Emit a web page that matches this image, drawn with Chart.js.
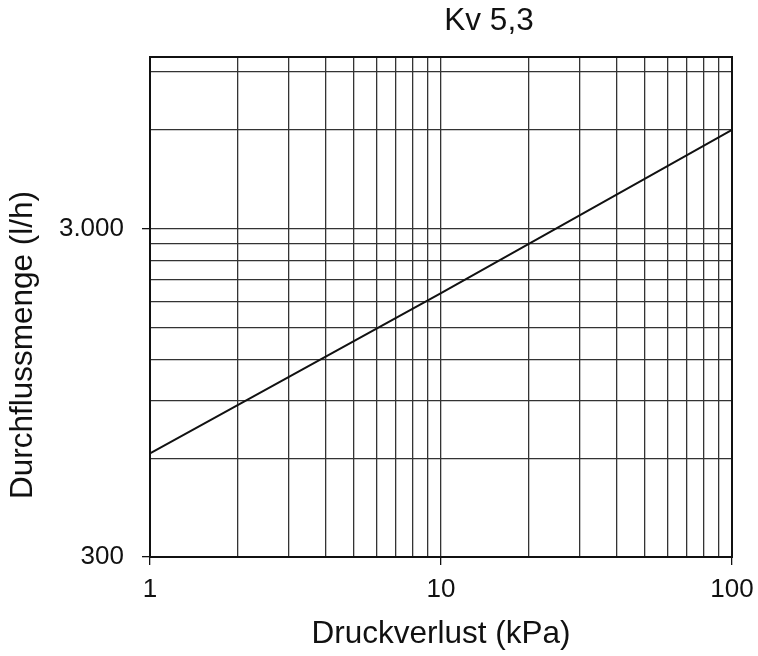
<!DOCTYPE html>
<html>
<head>
<meta charset="utf-8">
<title>Kv 5,3</title>
<script src="https://cdn.jsdelivr.net/npm/chart.js@4/dist/chart.umd.min.js"></script>
<style>
  html, body { margin: 0; padding: 0; background: #fff; }
  #chart { display: block; }
</style>
</head>
<body>
<canvas id="chart" width="758" height="656"></canvas>
<script>
// Pressure loss (kPa) -> flow (l/h)
const pressureKpa = [1, 10, 100];
const flowLh = [620, 1910, 6000];

// grid positions and which of them carry a label
const xGrid = [1, 2, 3, 4, 5, 6, 7, 8, 9, 10, 20, 30, 40, 50, 60, 70, 80, 90, 100];
const xLabels = [1, 10, 100];
const yGrid = [300, 600, 900, 1200, 1500, 1800, 2100, 2400, 2700, 3000, 6000, 9000];
const yLabels = [300, 3000];

const chartTitle = 'Kv 5,3';
const yTitle = 'Durchflussmenge (l/h)';
const FONT = "'Liberation Sans', Arial, Helvetica, sans-serif";
const TEXT = '#111';

// Frame around the plot, the title on top and the rotated y title
const framePlugin = {
    id: 'frame',
    afterDraw(chart) {
        const { ctx, chartArea } = chart;
        ctx.save();
        ctx.strokeStyle = TEXT;
        ctx.lineWidth = 2;
        ctx.strokeRect(chartArea.left, chartArea.top,
            chartArea.right - chartArea.left, chartArea.bottom - chartArea.top);

        ctx.fillStyle = TEXT;
        ctx.font = '31.5px ' + FONT;
        ctx.textAlign = 'center';
        ctx.textBaseline = 'alphabetic';
        ctx.fillText(chartTitle, 489, 30);

        // y title sits a bit below the middle of the plot in the original
        ctx.translate(23, 345);
        ctx.rotate(-Math.PI / 2);
        ctx.textBaseline = 'middle';
        ctx.fillText(yTitle, 0, 0);
        ctx.restore();
    }
};

function labeled(list, value) {
    return list.some(v => Math.abs(v - value) < 1e-6);
}

const ctx = document.getElementById('chart').getContext('2d');
new Chart(ctx, {
    type: 'line',
    data: {
        datasets: [{
            data: pressureKpa.map((p, i) => ({ x: p, y: flowLh[i] })),
            borderColor: TEXT,
            borderWidth: 2,
            pointRadius: 0,
            tension: 0
        }]
    },
    options: {
        responsive: false,
        animation: false,
        layout: { padding: { top: 57, right: 26, left: 0, bottom: 0 } },
        plugins: {
            legend: { display: false },
            tooltip: { enabled: false },
            title: { display: false }
        },
        scales: {
            x: {
                type: 'logarithmic',
                min: 1,
                max: 100,
                afterBuildTicks: scale => {
                    scale.ticks = xGrid.map(v => ({ value: v }));
                },
                afterFit: scale => {
                    scale.height = 99;
                    scale.paddingLeft = 0;
                    scale.paddingRight = 0;
                },
                ticks: {
                    autoSkip: false,
                    maxRotation: 0,
                    padding: 9,
                    color: TEXT,
                    font: { family: FONT, size: 26 },
                    callback: value => labeled(xLabels, value) ? String(value) : ''
                },
                grid: {
                    color: '#333',
                    lineWidth: 1.3,
                    tickLength: 8,
                    tickColor: c => (c.tick && labeled(xLabels, c.tick.value)) ? TEXT : 'rgba(0,0,0,0)'
                },
                border: { display: true, color: TEXT, width: 2 },
                title: {
                    display: true,
                    text: 'Druckverlust (kPa)',
                    color: TEXT,
                    font: { family: FONT, size: 31.5 },
                    padding: { top: 0, bottom: 3 }
                }
            },
            y: {
                type: 'logarithmic',
                min: 300,
                max: 10000,
                afterBuildTicks: scale => {
                    scale.ticks = yGrid.map(v => ({ value: v }));
                },
                afterFit: scale => {
                    scale.width = 150;
                    scale.paddingTop = 0;
                    scale.paddingBottom = 0;
                },
                ticks: {
                    autoSkip: false,
                    padding: 18,
                    color: TEXT,
                    font: { family: FONT, size: 26 },
                    callback: value => labeled(yLabels, value)
                        ? value.toLocaleString('de-DE')
                        : ''
                },
                grid: {
                    color: '#333',
                    lineWidth: 1.3,
                    tickLength: 8,
                    tickColor: c => (c.tick && labeled(yLabels, c.tick.value)) ? TEXT : 'rgba(0,0,0,0)'
                },
                border: { display: true, color: TEXT, width: 2 },
                title: { display: false }
            }
        }
    },
    plugins: [framePlugin]
});
</script>
</body>
</html>
